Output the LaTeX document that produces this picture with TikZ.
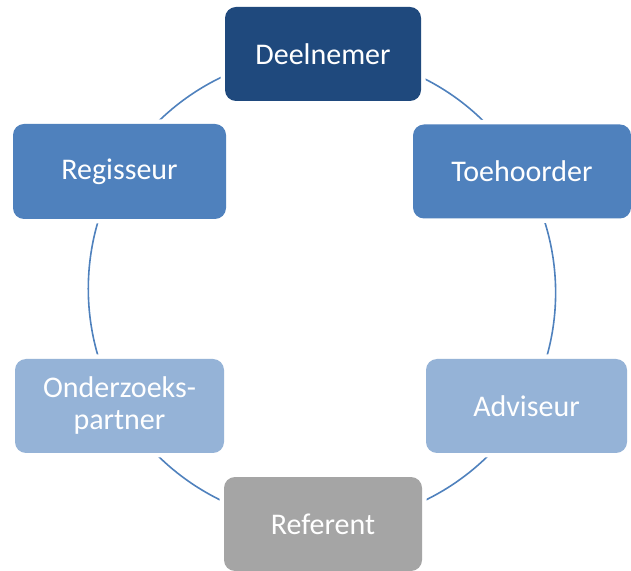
\documentclass[tikz,border=0pt]{standalone}
\usepackage{fontspec}
\setmainfont{Carlito}
\usetikzlibrary{backgrounds}

\definecolor{darkblue}{HTML}{1F497D}
\definecolor{midblue}{HTML}{4F81BD}
\definecolor{lightblue}{HTML}{95B3D7}
\definecolor{greybox}{HTML}{A5A5A5}

\tikzset{
  rolebox/.style={rounded corners=11pt, minimum height=94pt, inner sep=0pt,
    text=white, align=center, font=\fontsize{30}{32}\selectfont,
    preaction={draw=white, line width=9pt}},
  ring/.style={midblue, line width=1.6pt, bend left=30, looseness=0.91}
}

\begin{document}
\begin{tikzpicture}[x=1pt,y=1pt]
\useasboundingbox (0,0) rectangle (631,570);

\node [rolebox, fill=darkblue, minimum width=196pt] (deel) at (323,516) {Deelnemer};
\node [rolebox, fill=midblue, minimum width=218pt] (toeh) at (522,398.5) {Toehoorder};
\node [rolebox, fill=lightblue, minimum width=201pt] (advi) at (526.5,164) {Adviseur};
\node [rolebox, fill=greybox, minimum width=198pt] (refe) at (323,46) {Referent};
\node [rolebox, fill=lightblue, minimum width=209pt] (onde) at (119.5,164) {Onderzoeks-\\partner};
\node [rolebox, fill=midblue, minimum width=213pt, minimum height=95pt] (regi) at (119.5,398.5) {Regisseur};

% ring between the roles
\begin{scope}[on background layer]
\foreach \a/\b in {deel/toeh, toeh/advi, advi/refe, refe/onde, onde/regi, regi/deel}
  \draw [ring] (\a.center) to (\b.center);
\end{scope}
\end{tikzpicture}
\end{document}
